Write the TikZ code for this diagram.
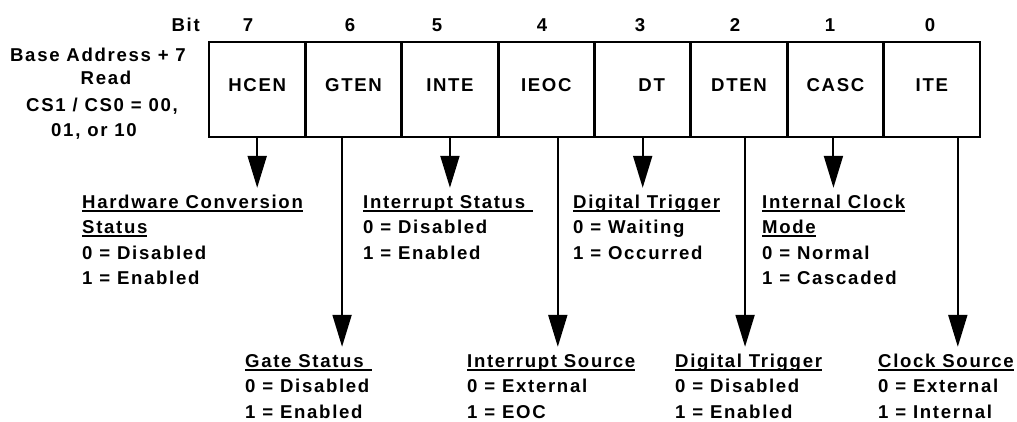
\documentclass[tikz,border=0pt]{standalone}
\usepackage{fontspec}
\setmainfont{Liberation Sans}[LetterSpace=9]
\usetikzlibrary{arrows.meta}
% underlined heading: a thick rule under the whole box
\newcommand\ulhead[1]{\setbox0\hbox{#1}\rlap{\rule[-3.6pt]{\wd0}{2pt}}\box0}
\begin{document}
\begin{tikzpicture}[x=1pt,y=-1pt,
  every node/.style={font=\fontsize{18.6}{22}\selectfont\bfseries, inner sep=0pt},
  cell/.style={draw, line width=2.8pt, minimum width=96.375pt, minimum height=95pt,
               text height=13pt, text depth=8pt},
  head/.style={anchor=base west, text height=14pt},
  txt/.style={anchor=base west},
  arr/.style={line width=2pt, -{Triangle[length=32pt,width=19pt]}, shorten >=6pt}]
\useasboundingbox (0,0) rectangle (1017,422);

% register title
\node[anchor=base] (ba) at (98,62) {Base Address + 7};
\node[anchor=base] (rd) at (106,85) {Read};
\node[anchor=base] (cs) at (102,112) {CS1 / CS0 = 00,};
\node[anchor=base] (cs2) at (94,137) {01, or 10};
\node[anchor=base east] (bit) at (200,32) {Bit};

% bit numbers
\foreach \n/\x in {7/248,6/350,5/437,4/542,3/640,2/735,1/830,0/930}
  \node[anchor=base] (b\n) at (\x,32) {\n};

% register cells
\node[cell] (c7) at (257.19,89.5) {HCEN};
\node[cell] (c6) at (353.56,89.5) {GTEN};
\node[cell] (c5) at (449.94,89.5) {INTE};
\node[cell] (c4) at (546.31,89.5) {IEOC};
\node[cell] (c3) at (642.69,89.5) {\hspace*{18pt}DT};
\node[cell] (c2) at (739.06,89.5) {DTEN};
\node[cell] (c1) at (835.44,89.5) {CASC};
\node[cell] (c0) at (931.81,89.5) {ITE};

% upper row of descriptions
\node[head] (hw) at (82,208) {\ulhead{Hardware Conversion}};
\node[head] (hw2) at (82,233.5) {\ulhead{Status}};
\node[txt] (hw3) at (82,259) {0 = Disabled};
\node[txt] (hw4) at (82,284.5) {1 = Enabled};

\node[head] (is) at (363,208) {\ulhead{Interrupt Status\kern8pt}};
\node[txt] (is2) at (363,233.5) {0 = Disabled};
\node[txt] (is3) at (363,259) {1 = Enabled};

\node[head] (dt) at (573,208) {\ulhead{Digital Trigger}};
\node[txt] (dt2) at (573,233.5) {0 = Waiting};
\node[txt] (dt3) at (573,259) {1 = Occurred};

\node[head] (ic) at (762,208) {\ulhead{Internal Clock}};
\node[head] (ic2) at (762,233.5) {\ulhead{Mode}};
\node[txt] (ic3) at (762,259) {0 = Normal};
\node[txt] (ic4) at (762,284.5) {1 = Cascaded};

% lower row of descriptions
\node[head] (gs) at (245,367) {\ulhead{Gate Status\kern8pt}};
\node[txt] (gs2) at (245,392.5) {0 = Disabled};
\node[txt] (gs3) at (245,418) {1 = Enabled};

\node[head] (src) at (467,367) {\ulhead{Interrupt Source}};
\node[txt] (src2) at (467,392.5) {0 = External};
\node[txt] (src3) at (467,418) {1 = EOC};

\node[head] (dte) at (675,367) {\ulhead{Digital Trigger}};
\node[txt] (dte2) at (675,392.5) {0 = Disabled};
\node[txt] (dte3) at (675,418) {1 = Enabled};

\node[head] (cks) at (878,367) {\ulhead{Clock Source}};
\node[txt] (cks2) at (878,392.5) {0 = External};
\node[txt] (cks3) at (878,418) {1 = Internal};

% short arrows to the upper row
\draw[arr] (c7.south) -- (c7.south |- hw.north);
\draw[arr] (c5.south) -- (c5.south |- is.north);
\draw[arr] (c3.south) -- (c3.south |- dt.north);
\draw[arr] ([xshift=-2pt]c1.south) -- ([xshift=-2pt]c1.south |- ic.north);

% long arrows to the lower row
\draw[arr] ([xshift=-11.5pt]c6.south) -- ([xshift=-11.5pt]c6.south |- gs.north);
\draw[arr] ([xshift=11.5pt]c4.south) -- ([xshift=11.5pt]c4.south |- src.north);
\draw[arr] ([xshift=6pt]c2.south) -- ([xshift=6pt]c2.south |- dte.north);
\draw[arr] ([xshift=26pt]c0.south) -- ([xshift=26pt]c0.south |- cks.north);
\end{tikzpicture}
\end{document}
